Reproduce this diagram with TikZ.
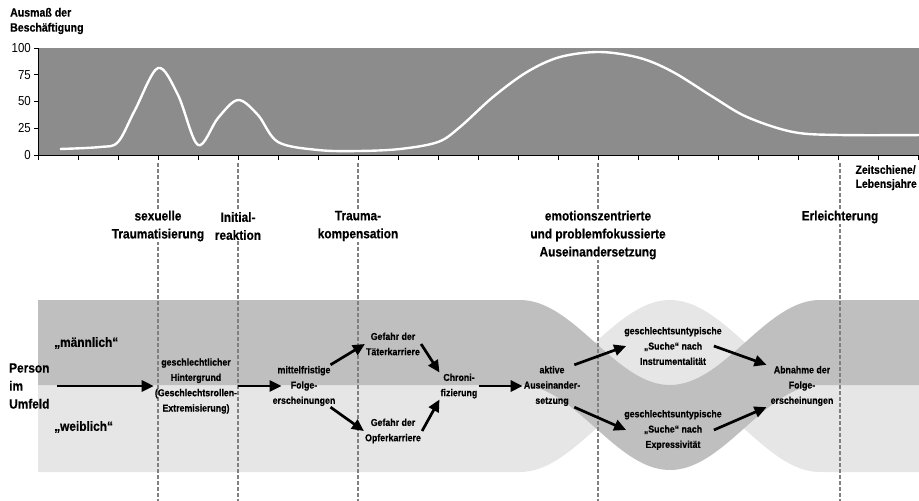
\documentclass[tikz,border=0pt]{standalone}
\usepackage{fontspec}
\setmainfont{Liberation Sans}[FakeStretch=0.88, BoldFeatures={FakeBold=0.4}]
\usetikzlibrary{arrows.meta}

\definecolor{chartgray}{RGB}{140,140,140}
\definecolor{bandmale}{RGB}{191,191,191}
\definecolor{bandfemale}{RGB}{230,230,230}
\definecolor{phaseline}{RGB}{128,128,128}

\tikzset{
  phase/.style={fill=white, inner sep=1pt, align=center, font=\fontsize{13.5}{18}\selectfont\bfseries},
  flow/.style={inner sep=1pt, align=center, font=\fontsize{10}{15.3}\selectfont\bfseries},
  side/.style={inner sep=1pt, anchor=west, align=left, font=\fontsize{13.5}{18}\selectfont\bfseries},
  numlab/.style={inner sep=0pt, anchor=east, font=\fontsize{13}{15}\selectfont},
  arr/.style={line width=2.7pt, -{Triangle[length=12pt,width=11pt]}},
  phasedash/.style={phaseline, line width=1.6pt, dash pattern=on 4pt off 2pt},
  declare function={sw(\x)=(\x<520 || \x>820) ? 0 : (1-cos(1.2*(\x-520)))/2;}
}

\begin{document}
\begin{tikzpicture}[x=1pt, y=-1pt]
    \useasboundingbox (0,0) rectangle (919,501);
    % chart
    \fill[chartgray] (38,48) rectangle (919,155);
    \draw[white, line width=2.4pt, line join=round] plot[smooth, tension=0.55] coordinates {
        (60,149) (100,147) (118,142) (135,110) (158,68) (178,95) (198,145) (218,118)
        (238,100) (258,115) (278,142) (318,150) (358,151) (400,149) (438,142) (460,127)
        (493,97) (527,72) (560,57) (600,52) (640,58) (673,72) (713,97) (747,117)
        (793,132) (840,135) (925,135)};
    \draw[line width=0.8pt] (38,48) -- (38,160);
    \draw[line width=0.8pt] (34,155) -- (919,155);
    \foreach \t in {78,118,...,918} \draw[line width=0.8pt] (\t,155) -- (\t,160);
    \foreach \v in {0,25,50,75,100} {
        \draw[line width=0.8pt] (34,{155-1.07*\v}) -- (38,{155-1.07*\v});
        \node[numlab] (num\v) at (31,{155-1.07*\v}) {\v};
    }
    \node[inner sep=1pt, anchor=west, align=left, font=\fontsize{12}{15}\selectfont\bfseries] (ausmass) at (9,21) {Ausmaß der\\Beschäftigung};
    \node[inner sep=1pt, anchor=north east, align=left, font=\fontsize{11.8}{14}\selectfont\bfseries] (zeit) at (918,164) {Zeitschiene/\\Lebensjahre};

    % bands
    \fill[bandfemale] plot[domain=38:919, samples=221] (\x,{385-85*sw(\x)})
        -- plot[domain=919:38, samples=221] (\x,{472-85*sw(\x)}) -- cycle;
    \fill[bandmale] plot[domain=38:919, samples=221] (\x,{300+85*sw(\x)})
        -- plot[domain=919:38, samples=221] (\x,{385+85*sw(\x)}) -- cycle;

    % phases
    \foreach \p in {158,238,358,598,840} \draw[phasedash] (\p,163) -- (\p,501);
    \node[phase] (sextrauma) at (158,226) {sexuelle\\Traumatisierung};
    \node[phase] (initial) at (238,226) {Initial-\\reaktion};
    \node[phase] (kompens) at (358,226) {Trauma-\\kompensation};
    \node[phase] (bewaelt) at (598,235) {emotionszentrierte\\und problemfokussierte\\Auseinandersetzung};
    \node[phase] (erleicht) at (840,217) {Erleichterung};

    % flow
    \node[side] (person) at (8,386) {Person\\im\\Umfeld};
    \node[side] (maennl) at (53,343) {„männlich“};
    \node[side] (weibl) at (53,427) {„weiblich“};
    \node[flow] (hinter) at (196,386) {geschlechtlicher\\Hintergrund\\(Geschlechtsrollen-\\Extremisierung)};
    \node[flow] (folge) at (304,386) {mittelfristige\\Folge-\\erscheinungen};
    \node[flow] (taeter) at (393,344) {Gefahr der\\Täterkarriere};
    \node[flow] (opfer) at (393,431) {Gefahr der\\Opferkarriere};
    \node[flow] (chron) at (459,386) {Chroni-\\fizierung};
    \node[flow] (aktiv) at (552,386) {aktive\\Auseinander-\\setzung};
    \node[flow] (instr) at (673,346) {geschlechtsuntypische\\„Suche“ nach\\Instrumentalität};
    \node[flow] (expr) at (673,430) {geschlechtsuntypische\\„Suche“ nach\\Expressivität};
    \node[flow] (abnahme) at (802,386) {Abnahme der\\Folge-\\erscheinungen};

    \draw[arr] ([xshift=6pt]person.east) -- (hinter.west);
    \draw[arr] (hinter.east) -- ([xshift=10pt]folge.west);
    \draw[arr] ([xshift=-6pt]folge.north east) -- (taeter.west);
    \draw[arr] ([xshift=-6pt]folge.south east) -- (opfer.west);
    \draw[arr] (taeter.east) -- (chron.north west);
    \draw[arr] (opfer.east) -- (chron.south west);
    \draw[arr] (chron.east) -- (aktiv.west);
    \draw[arr] ([xshift=-7pt]aktiv.north east) -- ([xshift=3pt]instr.west);
    \draw[arr] ([xshift=-7pt]aktiv.south east) -- ([xshift=3pt]expr.west);
    \draw[arr] ([xshift=-9pt]instr.east) -- ([xshift=-3pt]abnahme.north west);
    \draw[arr] ([xshift=-9pt]expr.east) -- ([xshift=-3pt]abnahme.south west);
\end{tikzpicture}
\end{document}
